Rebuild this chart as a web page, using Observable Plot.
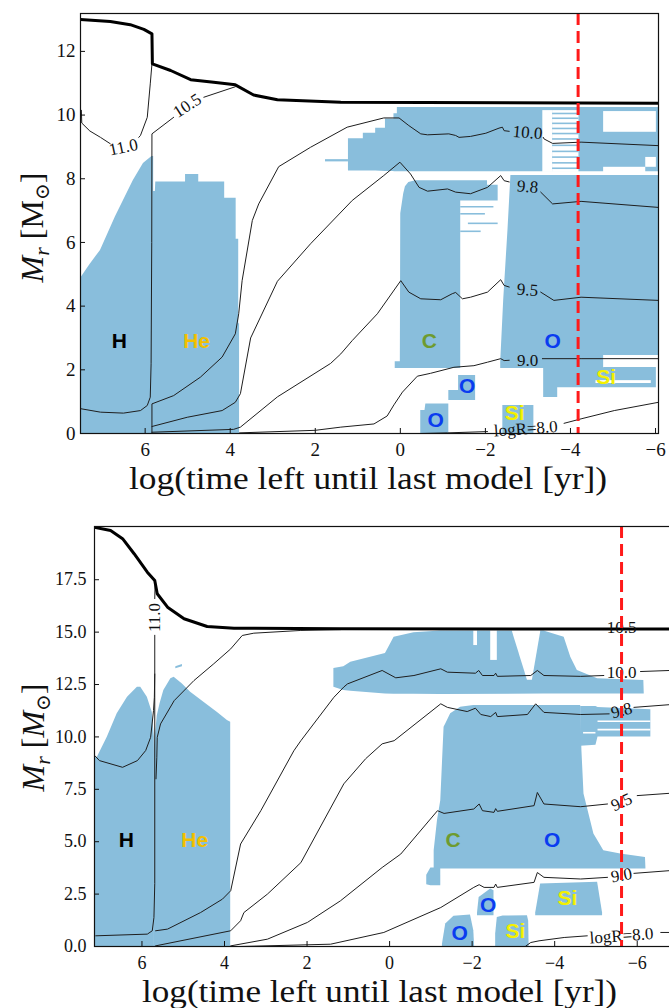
<!DOCTYPE html>
<html><head><meta charset="utf-8">
<script src="https://cdn.jsdelivr.net/npm/d3@7"></script>
<script src="https://cdn.jsdelivr.net/npm/@observablehq/plot@0.6"></script>
<style>
html,body{margin:0;padding:0;background:#fff;overflow:hidden;width:669px;height:1008px;}
#top{position:absolute;left:0;top:0;width:669px;}
#bot{position:absolute;left:0;top:510px;width:700px;}
svg{max-width:none !important;}
</style></head><body>
<div id="top"></div><div id="bot"></div>
<script>
// ---------------- shared text ----------------
const xLabelText = "log(time left until last model [yr])";
const yLabelText = "Mr [M⊙]";

// ---------------- TOP PANEL DATA ----------------
const topTimeDomain = [7.52, -6.07];
const topMassDomain = [0, 13.19];
const topTimeTicks = [6, 4, 2, 0, -2, -4, -6];
const topMassTicks = [0, 2, 4, 6, 8, 10, 12];
const topRedTime = -4.18;

// convective regions: [time, lower Mr, upper Mr]
const topHCore = [[7.52,0,4.87],[7.30,0,5.30],[7.05,0,5.75],[6.70,0,6.80],[6.28,0,7.94],[6.04,0,8.48],[5.84,0,8.70],[5.80,0,8.70]];
const topHeCore = [[5.81,0,7.60],[5.76,0,7.60],[5.75,0,7.90],[5.05,0,7.90],[5.05,0,8.13],[4.74,0,8.13],[4.74,0,7.90],[4.13,0,7.90],[4.13,0,7.39],[3.86,0,7.39],[3.86,0,6.10],[3.80,0,6.10],[3.80,0,3.45],[3.78,0,3.45]];
const topShellSliver = [[1.76,8.53,8.60],[1.22,8.53,8.60]];
const topShell = [[1.22,8.24,9.26],[0.87,8.24,9.26],[0.87,8.24,9.43],[0.58,8.24,9.43],[0.58,8.24,9.59],[0.35,8.23,9.59],[0.35,8.23,9.88],[0.15,8.23,9.88],[0.15,8.22,10.04],[0.07,8.22,10.04],[0.07,8.22,10.24],[-6.07,8.22,10.24]];
const topC = [[0.12,2.04,2.25],[0.0,2.04,2.25],[-0.01,2.04,6.90],[-0.08,2.04,7.53],[-0.12,2.04,7.75],[-0.20,2.04,7.88],[-0.36,2.04,7.94],[-1.42,2.04,7.94],[-1.42,7.30,7.94],[-2.05,7.30,7.94],[-2.05,7.30,7.80],[-2.30,7.30,7.80]];
const topO = [[-2.36,2.04,2.24],[-2.43,2.04,4.18],[-2.53,2.04,6.37],[-2.60,2.04,8.10],[-4.78,2.04,8.10],[-4.78,2.45,8.10],[-6.07,2.45,8.10]];
const topSiShell = [[-3.37,1.13,2.04],[-3.70,1.13,2.04],[-3.70,1.44,2.04],[-4.78,1.44,2.04],[-4.78,1.44,2.07],[-6.02,1.44,2.07]];
const topOSmallUpper = [[-1.14,1.04,1.35],[-1.37,1.04,1.35],[-1.37,1.04,1.82],[-1.77,1.04,1.82]];
const topOSmallLower = [[-0.48,0,0.72],[-0.58,0,0.72],[-0.60,0,0.93],[-1.14,0,0.93]];
const topSiSmall = [[-2.41,0,0.88],[-3.14,0,0.88]];
// non-convective holes inside regions: [t1, t2, m1, m2]
const topHoles = [[-3.35,-3.58,8.20,10.14],[-3.58,-4.20,8.20,10.14],[-4.78,-6.02,9.46,10.11],[-5.77,-6.02,8.36,8.67],[-4.78,-5.77,8.15,8.36],[-4.60,-5.90,1.57,1.66]];
// thin convective stripes: [t1, t2, m]
const topStripes = [[-3.58,-4.20,10.05],[-3.58,-4.20,9.90],[-3.58,-4.20,9.74],[-3.58,-4.20,9.58],[-3.58,-4.20,9.42],[-3.58,-4.20,9.25],[-3.58,-4.20,9.05],[-3.58,-4.20,8.86],[-3.58,-4.20,8.68],[-3.58,-4.20,8.50],[-3.58,-4.20,8.33],[-1.42,-2.20,7.12],[-1.42,-2.00,6.90],[-1.60,-2.30,6.60],[-1.42,-1.90,6.35]];

// total mass and logR contours: [time, Mr]
const topMass = [[7.52,13.0],[6.82,12.94],[6.35,12.84],[6.03,12.69],[5.84,12.55],[5.83,11.61],[5.40,11.40],[4.93,11.11],[4.39,11.03],[3.88,10.95],[3.45,10.63],[2.89,10.48],[1.40,10.40],[-6.07,10.37]];
const topR110 = [[7.50,10.15],[7.49,9.75],[7.30,9.50],[7.05,9.30],[6.82,9.10],[6.80,NaN],[6.15,9.30],[6.11,9.36],[5.95,9.93],[5.88,10.98],[5.84,11.61]];
const topR105 = [[7.52,0.78],[7.05,0.67],[6.51,0.64],[6.11,0.72],[5.95,0.88],[5.88,1.14],[5.86,2.19],[5.845,6.0],[5.84,9.41],[5.33,9.93],[5.30,NaN],[4.62,10.56],[3.88,10.89]];
const topR100 = [[5.84,0.0],[5.84,0.93],[5.33,1.19],[4.70,1.77],[4.19,2.40],[3.88,3.13],[3.80,3.76],[3.72,4.80],[3.48,6.69],[3.33,7.21],[2.86,8.38],[2.11,8.99],[1.25,9.62],[0.39,9.91],[0.03,9.91],[-0.20,9.67],[-0.48,9.41],[-0.64,9.38],[-1.14,9.41],[-1.30,9.36],[-1.38,9.30],[-1.65,9.33],[-2.01,9.43],[-2.32,9.59],[-2.40,9.62],[-2.44,9.51],[-2.56,9.49],[-2.60,NaN],[-3.36,9.30],[-3.38,9.25],[-3.58,9.11],[-4.25,9.15],[-6.07,9.04]];
const topR98 = [[5.84,0.22],[5.01,0.51],[4.19,0.72],[3.88,0.98],[3.76,1.25],[3.52,3.0],[2.89,4.78],[2.11,5.96],[1.13,7.32],[0.39,8.10],[0.01,8.52],[-0.24,8.15],[-0.44,7.73],[-0.64,7.61],[-1.11,7.68],[-1.30,7.58],[-1.65,7.53],[-2.05,7.73],[-2.36,8.10],[-2.44,7.94],[-2.56,7.90],[-2.60,NaN],[-3.30,7.58],[-3.58,7.21],[-4.25,7.29],[-6.07,7.10]];
const topR95 = [[5.84,0.04],[3.92,0.13],[3.76,0.20],[2.89,1.15],[1.64,2.20],[1.40,2.50],[1.13,2.92],[0.54,3.76],[-0.01,4.80],[-0.20,4.44],[-0.48,4.23],[-0.95,4.20],[-1.22,4.39],[-1.30,4.43],[-1.46,4.23],[-1.65,4.28],[-2.05,4.44],[-2.36,4.83],[-2.44,4.65],[-2.56,4.60],[-2.60,NaN],[-3.30,4.44],[-3.61,4.18],[-4.25,4.28],[-6.07,4.18]];
const topR90 = [[3.78,0.02],[2.0,0.10],[1.40,0.20],[0.62,0.30],[0.31,0.55],[0.15,0.90],[-0.05,1.30],[-0.40,1.80],[-0.71,1.89],[-1.26,2.08],[-1.73,2.13],[-2.05,2.24],[-2.36,2.35],[-2.44,2.29],[-2.56,2.30],[-2.60,NaN],[-3.34,2.35],[-4.25,2.35],[-6.07,2.35]];
const topR80 = [[-0.5,0.0],[-1.11,0.02],[-2.05,0.06],[-2.15,NaN],[-3.85,0.32],[-4.25,0.46],[-5.03,0.72],[-6.07,0.98]];
const topContourLabels = [["11.0",6.51,8.99],["10.5",5.01,10.30],["10.0",-2.99,9.45],["9.8",-2.99,7.75],["9.5",-2.99,4.51],["9.0",-2.99,2.29],["logR=8.0",-2.95,0.15]];
const topElementLabels = [["H",6.61,2.89],["He",4.79,2.89],["C",-0.68,2.89],["O",-3.58,2.89],["Si",-4.84,1.77],["O",-1.57,1.48],["O",-0.83,0.41],["Si",-2.69,0.65]];

// ---------------- BOTTOM PANEL DATA ----------------
const botTimeDomain = [7.15, -7.0];
const botMassDomain = [0, 20.04];
const botTimeTicks = [6, 4, 2, 0, -2, -4, -6];
const botMassTicks = [0, 2.5, 5, 7.5, 10, 12.5, 15, 17.5];
const botRedTime = -5.62;

const botHCore = [[7.15,0,9.0],[7.08,0,9.03],[6.84,0,9.98],[6.60,0,11.10],[6.35,0,11.89],[6.11,0,12.37],[6.03,0,12.37],[5.87,0,11.89],[5.75,0,11.17],[5.70,0,10.0]];
const botHeCore = [[5.71,0,9.3],[5.63,0,11.0],[5.56,0,11.6],[5.47,0,12.21],[5.30,0,12.77],[5.22,0,12.85],[5.02,0,12.53],[4.82,0,12.13],[4.50,0,11.65],[4.17,0,11.17],[3.93,0,10.78],[3.85,0,10.70]];
const botHeSpeck = [[5.18,13.25,13.35],[5.02,13.35,13.45]];
const botShell = [[1.35,12.37,13.26],[1.11,12.21,13.35],[0.94,12.18,13.56],[0.10,12.05,13.98],[-0.11,12.04,14.76],[-0.59,12.04,14.97],[-1.24,12.02,15.05],[-3.74,12.05,15.05],[-4.23,12.05,14.76],[-4.39,12.05,13.80],[-4.55,12.05,13.17],[-5.04,12.05,12.77],[-6.16,12.05,12.69],[-6.17,12.05,12.06]];
const botCO = [[-1.08,3.70,4.57],[-1.16,3.70,6.00],[-1.24,3.70,6.96],[-1.32,3.70,10.46],[-1.36,3.70,10.62],[-1.48,3.70,11.10],[-1.72,3.70,11.41],[-2.04,3.70,11.50],[-4.63,3.70,11.50],[-4.66,3.70,9.34],[-4.71,3.70,7.28],[-4.95,3.70,5.37],[-5.19,3.70,4.57],[-5.60,3.70,4.41],[-6.20,3.70,4.25],[-6.21,3.70,3.77]];
const botCOEdge = [[-4.63,9.55,11.45],[-5.0,9.6,11.45],[-5.05,10.0,11.40],[-6.33,10.0,11.30]];
const botCOBlob = [[-0.90,2.95,3.40],[-1.00,2.90,3.75],[-1.24,2.90,3.75]];
const botOLower = [[-1.28,0,0.10],[-1.36,0,1.07],[-1.56,0,1.44],[-1.96,0,1.50],[-2.04,0,0.75],[-2.06,0,0]];
const botOUpper = [[-2.13,1.47,1.60],[-2.17,1.47,2.34],[-2.45,1.47,2.74],[-2.53,1.47,2.66]];
const botSiLower = [[-2.57,0,0.60],[-2.61,0,1.38],[-2.75,0,1.45],[-3.34,0,1.47],[-3.37,0,1.20],[-3.38,0,0]];
const botSiUpper = [[-3.54,1.47,1.60],[-3.66,1.47,2.98],[-5.04,1.47,3.06],[-5.16,1.47,1.60]];
// white (non-convective) wedge in the upper shell: [time, lower, upper]
const botShellGap = [[-2.98,15.0,15.1],[-3.34,12.7,15.1],[-3.46,12.7,15.1],[-3.66,15.0,15.1]];
const botHoles = [[-2.45,-2.61,13.65,15.1],[-2.04,-2.13,14.36,15.1]];
const botWhiteStripes = [[-5.05,-6.33,10.35],[-5.05,-6.33,10.75],[-4.70,-5.00,10.2]];

const botMass = [[7.15,20.0],[6.76,19.85],[6.47,19.46],[6.19,18.74],[5.87,17.86],[5.69,17.46],[5.63,16.83],[5.38,16.19],[4.98,15.64],[4.42,15.27],[3.77,15.19],[1.19,15.16],[-7.0,15.15]];
const botR110 = [[7.12,0.51],[5.87,0.59],[5.75,0.75],[5.71,1.38],[5.69,3.0],[5.69,14.85],[5.69,NaN],[5.69,16.6],[5.68,17.4]];
const botRQ = [[7.14,9.10],[7.03,8.87],[6.47,8.55],[6.11,8.87],[5.91,9.35],[5.79,9.98],[5.72,11.26],[5.70,11.89],[5.69,13.0]];
const botR105 = [[5.66,8.0],[5.64,9.03],[5.63,9.98],[5.55,10.62],[5.22,11.73],[4.74,12.69],[4.26,13.49],[3.85,14.20],[3.57,14.84],[3.29,14.95],[2.15,15.08],[1.19,15.12]];
const botR100 = [[5.67,0.75],[5.38,0.83],[4.58,1.62],[4.05,2.26],[3.85,2.66],[3.61,4.89],[3.12,6.48],[2.32,9.34],[2.15,9.82],[1.35,11.89],[1.11,12.38],[1.02,12.53],[0.18,13.17],[-0.15,12.82],[-0.59,12.93],[-1.24,13.25],[-1.40,13.09],[-2.08,13.04],[-2.16,13.17],[-2.25,12.93],[-2.53,12.93],[-2.57,13.04],[-2.61,12.89],[-3.42,12.93],[-3.58,13.17],[-3.74,12.93],[-4.63,12.89],[-5.19,12.93],[-5.20,NaN],[-6.08,13.12],[-6.79,13.17],[-7.0,13.17]];
const botR98 = [[5.67,0.03],[3.85,0.75],[3.61,1.23],[3.53,1.62],[2.96,2.50],[2.15,4.0],[1.11,7.76],[0.58,8.96],[0.18,9.67],[-0.11,9.82],[-1.24,11.58],[-1.40,11.41],[-1.88,11.21],[-2.08,11.37],[-2.21,11.07],[-2.45,10.97],[-2.57,11.17],[-2.61,10.97],[-3.34,11.07],[-3.54,11.58],[-3.74,11.17],[-4.63,11.07],[-5.32,11.10],[-5.33,NaN],[-5.92,11.41],[-6.79,11.54],[-7.0,11.57]];
const botR95 = [[3.85,0.03],[2.96,0.35],[1.99,1.15],[1.19,2.18],[0.18,3.77],[-0.27,4.41],[-1.16,6.48],[-1.32,6.35],[-2.04,6.56],[-2.17,6.80],[-2.25,6.48],[-2.53,6.40],[-2.57,6.58],[-2.61,6.45],[-3.50,6.72],[-3.58,7.35],[-3.74,6.80],[-4.63,6.67],[-5.28,6.80],[-5.30,NaN],[-6.00,7.20],[-6.79,7.31],[-7.0,7.31]];
const botR90 = [[3.61,0.0],[1.43,0.11],[0.14,0.67],[-1.24,1.86],[-2.04,2.82],[-2.17,2.95],[-2.29,2.82],[-2.53,2.82],[-2.57,2.98],[-2.61,2.82],[-3.50,3.06],[-3.58,3.53],[-3.74,3.30],[-4.63,3.22],[-5.28,3.30],[-5.30,NaN],[-5.92,3.49],[-6.79,3.62],[-7.0,3.63]];
const botR80 = [[-3.3,0.02],[-3.42,0.19],[-3.62,0.27],[-4.23,0.43],[-4.79,0.51],[-4.80,NaN],[-6.57,0.67],[-7.0,0.67]];
const botContourLabels = [["11.0",5.70,15.7],["10.5",-5.62,15.2],["10.0",-5.62,13.05],["9.8",-5.62,11.26],["9.5",-5.62,6.89],["9.0",-5.62,3.40],["logR=8.0",-5.62,0.51]];
const botElementLabels = [["H",6.38,5.07],["He",4.72,5.07],["C",-1.54,5.07],["O",-3.94,5.07],["O",-2.39,1.96],["Si",-4.31,2.28],["O",-1.70,0.61],["Si",-3.05,0.75]];

// ---------------- styles ----------------
const BLUE = "#89bedc";
const LINE = "#1e1e1e";
const SERIF = "'Liberation Serif', 'DejaVu Serif', serif";
const SANS = "'Liberation Sans', Arial, sans-serif";
const elementColor = {H: "#000000", He: "#f2c000", C: "#6e9b2f", O: "#0a3cf0", Si: "#f4f000"};
const topAngles = {"11.0": -12, "10.5": -33, "10.0": 5, "9.8": 5, "9.5": 4, "9.0": 0, "logR=8.0": -4};
const botAngles = {"11.0": -90, "10.5": 0, "10.0": 0, "9.8": -15, "9.5": -25, "9.0": -10, "logR=8.0": -4};

function buildPanel(o) {
  const P = d => d;
  const marks = [];
  for (const r of o.regions) marks.push(Plot.areaY(r, {x: d => d[0], y1: d => d[1], y2: d => d[2], fill: BLUE, clip: true}));
  for (const r of o.whiteRegions) marks.push(Plot.areaY(r, {x: d => d[0], y1: d => d[1], y2: d => d[2], fill: "white", clip: true}));
  marks.push(Plot.rect(o.holes, {x1: d => d[0], x2: d => d[1], y1: d => d[2], y2: d => d[3], fill: "white", clip: true}));
  marks.push(Plot.ruleY(o.blueStripes, {x1: d => d[0], x2: d => d[1], y: d => d[2], stroke: BLUE, strokeWidth: 1.6, clip: true}));
  marks.push(Plot.ruleY(o.whiteStripes, {x1: d => d[0], x2: d => d[1], y: d => d[2], stroke: "white", strokeWidth: 1.6, clip: true}));
  for (const l of o.contours) marks.push(Plot.line(l, {x: d => d[0], y: d => d[1], stroke: LINE, strokeWidth: 1, clip: true}));
  marks.push(Plot.line(o.mass, {x: d => d[0], y: d => d[1], stroke: "#000", strokeWidth: 3, clip: true}));
  marks.push(Plot.text(o.contourLabels, {x: d => d[1], y: d => d[2], text: d => d[0], rotate: d => o.angles[d[0]], fontFamily: SERIF, fontSize: 17, fill: "#111"}));
  marks.push(Plot.ruleX([o.red], {x: P, stroke: "#ff1a1a", strokeWidth: 3, strokeDasharray: "12,6"}));
  marks.push(Plot.text(o.elements, {x: d => d[1], y: d => d[2], text: d => d[0], fill: d => elementColor[d[0]], fontFamily: SANS, fontWeight: "bold", fontSize: 21}));
  marks.push(Plot.axisX({ticks: o.xTicks, tickSize: -5, tickPadding: o.xPad, fontSize: o.tickFont, label: null}));
  marks.push(Plot.axisY({ticks: o.yTicks, tickFormat: o.yFormat, tickSize: -5, tickPadding: o.yPad, fontSize: o.tickFont, label: null}));
  marks.push(Plot.frame({stroke: "#111", strokeWidth: 1.2}));
  marks.push(Plot.text([xLabelText], {text: P, frameAnchor: "bottom", lineAnchor: "middle", textAnchor: "middle", dy: 45, dx: o.xLabelDx, fontSize: 32, fontFamily: SERIF, fill: "#111"}));
  marks.push(Plot.text([yLabelText], {text: P, frameAnchor: "left", lineAnchor: "middle", textAnchor: "middle", rotate: -90, dx: o.yLabelDx, dy: o.yLabelDy, fontSize: 32, fontFamily: SERIF, fill: "#111"}));
  const svg = Plot.plot({
    width: o.width, height: o.height,
    marginLeft: o.ml, marginRight: o.mr, marginTop: o.mt, marginBottom: o.mb,
    x: {domain: o.xDomain}, y: {domain: o.yDomain},
    color: {type: "identity"},
    style: {fontFamily: SERIF, fontSize: "18px", background: "white", color: "#111", overflow: "visible"},
    marks
  });
  svg.style.maxWidth = "none";
  for (const t of svg.querySelectorAll("text")) {
    if (t.textContent === xLabelText) {
      t.setAttribute("textLength", o.xLabelLen);
      t.setAttribute("lengthAdjust", "spacingAndGlyphs");
    } else if (t.textContent === yLabelText) {
      t.innerHTML = o.yLabelHTML;
    }
  }
  return svg;
}

const topSvg = buildPanel({
  width: 669, height: 505, ml: 80, mr: 11, mt: 13, mb: 72,
  xDomain: topTimeDomain, yDomain: topMassDomain,
  xTicks: topTimeTicks, yTicks: topMassTicks, yFormat: d3.format("d"),
  xPad: 14, yPad: 10, tickFont: 19,
  regions: [topHCore, topHeCore, topShellSliver, topShell, topC, topO, topSiShell, topOSmallUpper, topOSmallLower, topSiSmall],
  whiteRegions: [],
  holes: topHoles, blueStripes: topStripes, whiteStripes: [],
  contours: [topR110, topR105, topR100, topR98, topR95, topR90, topR80],
  mass: topMass, contourLabels: topContourLabels, angles: topAngles,
  red: topRedTime, elements: topElementLabels,
  xLabelDx: -1.5, xLabelLen: 478, yLabelDx: -48, yLabelDy: 4,
  yLabelHTML: '<tspan font-style="italic">M</tspan><tspan font-style="italic" font-size="22" dy="6">r</tspan><tspan dy="-6"> [M</tspan><tspan font-size="20" dy="6">⊙</tspan><tspan dy="-6">]</tspan>'
});
document.getElementById("top").appendChild(topSvg);

const botSvg = buildPanel({
  width: 700, height: 498, ml: 94, mr: 22, mt: 16, mb: 62,
  xDomain: botTimeDomain, yDomain: botMassDomain,
  xTicks: botTimeTicks, yTicks: botMassTicks, yFormat: d3.format(".1f"),
  xPad: 15, yPad: 13, tickFont: 18,
  regions: [botHCore, botHeCore, botHeSpeck, botShell, botCO, botCOEdge, botCOBlob, botOLower, botOUpper, botSiLower, botSiUpper],
  whiteRegions: [botShellGap],
  holes: botHoles, blueStripes: [], whiteStripes: botWhiteStripes,
  contours: [botR110, botRQ, botR105, botR100, botR98, botR95, botR90, botR80],
  mass: botMass, contourLabels: botContourLabels, angles: botAngles,
  red: botRedTime, elements: botElementLabels,
  xLabelDx: -7, xLabelLen: 475, yLabelDx: -61, yLabelDy: 1,
  yLabelHTML: '<tspan font-style="italic">M</tspan><tspan font-style="italic" font-size="22" dy="6">r</tspan><tspan dy="-6"> [</tspan><tspan font-style="italic">M</tspan><tspan font-size="20" dy="6">⊙</tspan><tspan dy="-6">]</tspan>'
});
document.getElementById("bot").appendChild(botSvg);
</script></body></html>
